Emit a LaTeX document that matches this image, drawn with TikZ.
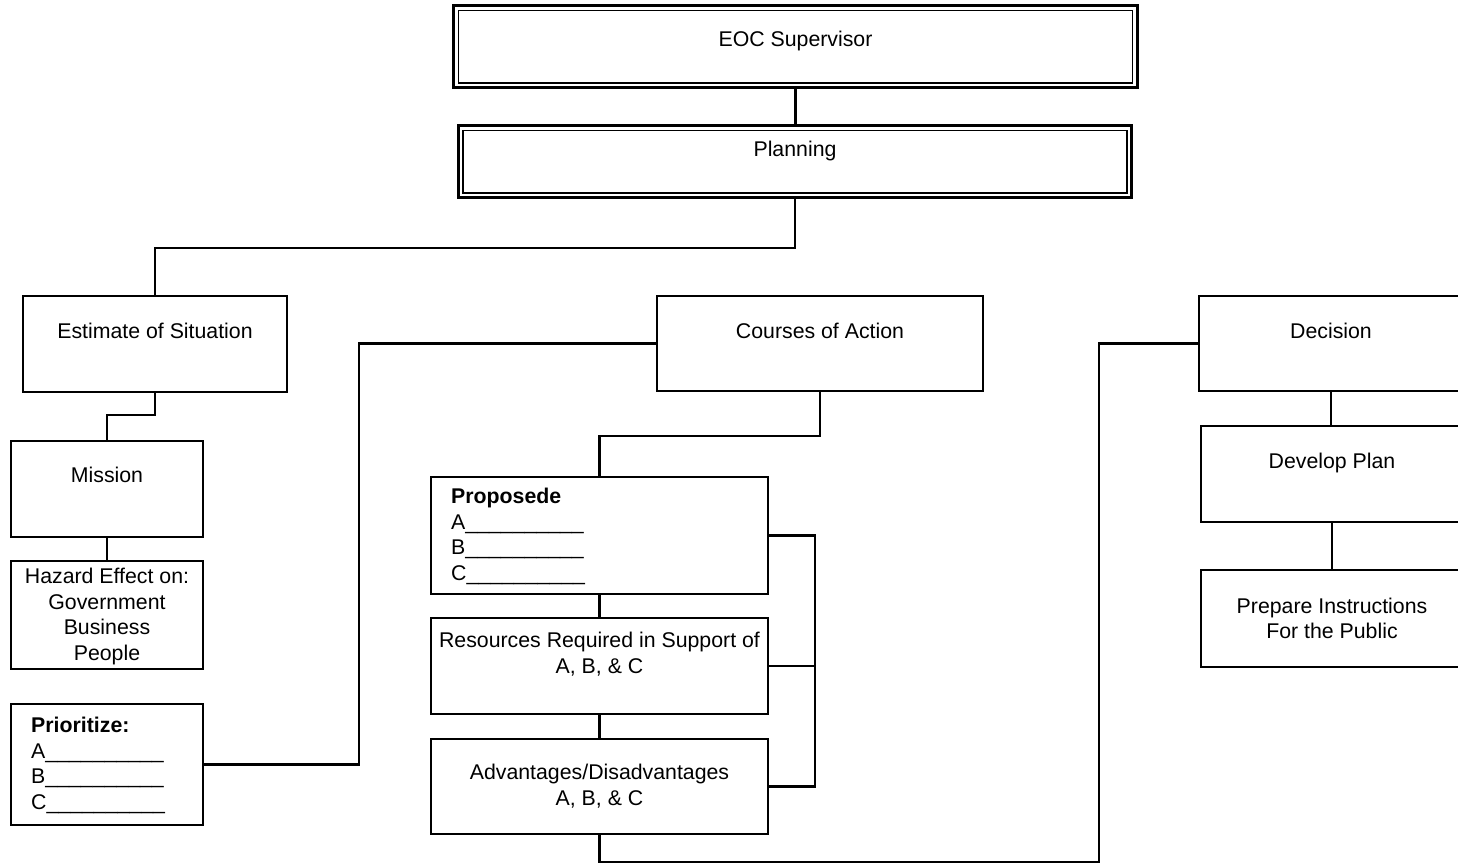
\documentclass[tikz,border=0pt]{standalone}
\usepackage{fontspec}
\setmainfont{Liberation Sans}
\usetikzlibrary{fit}
\begin{document}
\begin{tikzpicture}[x=1pt,y=-1pt,
  box/.style={draw, line width=2.2pt, inner sep=0pt, outer sep=0pt},
  heavybox/.style={box, line width=2.8pt},
  dblbox/.style={draw, line width=3pt, inner sep=0pt, outer sep=0pt},
  innerrule/.style={line width=1.2pt},
  conn/.style={line width=2.2pt},
  txt/.style={font=\fontsize{21.3}{25.6}\selectfont, inner sep=0pt,
              anchor=north, align=center, execute at begin node=\strut},
  listtxt/.style={txt, anchor=north west, align=left}]

\path[use as bounding box, clip] (0,0) rectangle (1458,866);

% ---- header boxes (double rule) ----
\node[dblbox, fit={(453.5,5.5) (1137.5,88)}] (eoc) {};
\draw[innerrule] ([shift={(5pt,5pt)}]eoc.south west) rectangle ([shift={(-5pt,-5pt)}]eoc.north east);
\node[dblbox, fit={(458.5,126) (1131.5,197.5)}] (plan) {};
\draw[innerrule] ([shift={(4.5pt,4.5pt)}]plan.south west) rectangle ([shift={(-4.5pt,-4.5pt)}]plan.north east);
\node[txt] (eoc-t) at (795.5,28.1) {EOC Supervisor};
\node[txt] (plan-t) at (795,138.1) {Planning};

% ---- left column ----
\node[heavybox, fit={(23,296) (287,392)}] (est) {};
\node[box, fit={(11,441) (203,537)}] (mis) {};
\node[box, fit={(11,561) (203,669)}] (haz) {};
\node[box, fit={(11,704) (203,825)}] (pri) {};
\node[txt] (est-t) at (155,320.1) {Estimate of Situation};
\node[txt] (mis-t) at (107,464.1) {Mission};
\node[txt] (haz-t) at (107,568.1) {Hazard Effect on:\\Government\\Business\\People};
\node[listtxt] (pri-t) at (31,717.1) {\textbf{Prioritize:}\\A\_\_\_\_\_\_\_\_\_\_\\B\_\_\_\_\_\_\_\_\_\_\\C\_\_\_\_\_\_\_\_\_\_};

% ---- middle column ----
\node[heavybox, fit={(657,296) (983,391)}] (cou) {};
\node[box, fit={(431,477) (768,594)}] (prop) {};
\node[box, fit={(431,618) (768,714)}] (res) {};
\node[box, fit={(431,739) (768,834)}] (adv) {};
\node[txt] (cou-t) at (820,320.1) {Courses of Action};
\node[listtxt] (prop-t) at (451,488.1) {\textbf{Proposede}\\A\_\_\_\_\_\_\_\_\_\_\\B\_\_\_\_\_\_\_\_\_\_\\C\_\_\_\_\_\_\_\_\_\_};
\node[txt] (res-t) at (599.5,632.1) {Resources Required in Support of\\A, B, \& C};
\node[txt] (adv-t) at (599.5,764.1) {Advantages/Disadvantages\\A, B, \& C};

% ---- right column ----
\node[heavybox, fit={(1199,296) (1463,391)}] (dec) {};
\node[box, fit={(1201,426) (1463,522)}] (dev) {};
\node[box, fit={(1201,570) (1463,667)}] (prep) {};
\node[txt] (dec-t) at (1331,320.1) {Decision};
\node[txt] (dev-t) at (1332,450.1) {Develop Plan};
\node[txt] (prep-t) at (1332,597.6) {Prepare Instructions\\For the Public};

% ---- routing points ----
\coordinate (split) at (155,248);
\coordinate (cx) at (359,0);
\coordinate (bx) at (815,0);
\coordinate (bot) at (1099,862);

% ---- connectors ----
\draw[conn] (eoc.south) -- (eoc.south |- plan.north);
\draw[conn] (plan.south) |- (split) -- (est.north);
\draw[conn] (est.south) -- ++(0,23) -| (mis.north);
\draw[conn] (mis.south) -- (haz.north);
\draw[conn] (pri.east) -| (cx |- cou.west) -- (cou.west);
\draw[conn] (cou.south) -- ++(0,45) -| (prop.north);
\draw[conn] (prop.south) -- (res.north);
\draw[conn] (res.south) -- (adv.north);
\draw[conn] (prop.east) -| (bx |- adv.east) -- (adv.east);
\draw[conn] (res.east) -- (bx |- res.east);
\draw[conn] (adv.south) |- (bot) |- (dec.west);
\draw[conn] (dec.south) -- (dec.south |- dev.north);
\draw[conn] (dev.south) -- (dev.south |- prep.north);

\end{tikzpicture}
\end{document}
